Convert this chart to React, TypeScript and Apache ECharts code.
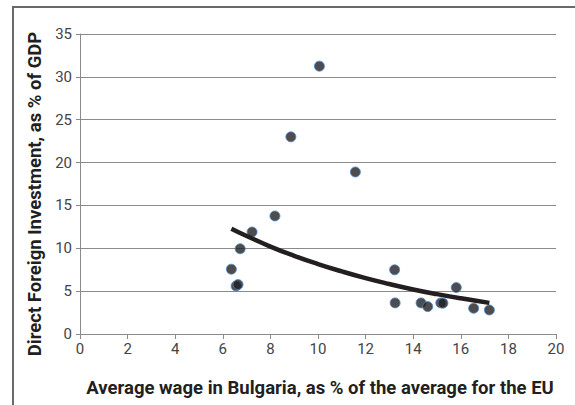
import React, { useEffect, useRef } from "react";
import * as echarts from "echarts";

// Average wage in Bulgaria, % of EU average (x) vs FDI, % of GDP (y)
const wageX = [6.36, 6.56, 6.64, 6.73, 7.23, 8.19, 8.86, 10.06, 11.57, 13.22, 13.24, 14.33, 14.61, 15.16, 15.25, 15.81, 16.54, 17.2];
const fdiY = [7.56, 5.6, 5.77, 9.95, 11.9, 13.77, 23.0, 31.25, 18.9, 7.49, 3.63, 3.63, 3.2, 3.63, 3.6, 5.42, 3.0, 2.8];

// Trend line (exponential)
const trendX = [6.36, 7, 8, 9, 10, 11, 12, 13, 14, 15, 16, 17.2];
const trendY = [12.29, 11.44, 10.2, 9.12, 8.16, 7.3, 6.52, 5.83, 5.2, 4.65, 4.16, 3.63];

const xTicks = [0, 2, 4, 6, 8, 10, 12, 14, 16, 18, 20];
const yTicks = [0, 5, 10, 15, 20, 25, 30, 35];

const xTitle = "Average wage in Bulgaria, as % of the average for the EU";
const yTitle = "Direct Foreign Investment, as % of GDP";

export default function App() {
  const ref = useRef<HTMLDivElement>(null);
  useEffect(() => {
    if (!ref.current) return;
    const chart = echarts.init(ref.current, null, { renderer: "svg" });
    const font = "Roboto, 'Noto Sans', sans-serif";
    chart.setOption({
      animation: false,
      backgroundColor: "#ffffff",
      grid: { left: 80, right: 19, top: 34, bottom: 71, containLabel: false },
      xAxis: {
        type: "value",
        min: xTicks[0],
        max: xTicks[xTicks.length - 1],
        interval: 2,
        axisLine: { show: true, lineStyle: { color: "#8a8a8a", width: 1 } },
        axisTick: { show: true, length: 5, lineStyle: { color: "#8a8a8a" } },
        splitLine: { show: false },
        axisLabel: { color: "#444", fontSize: 15, fontFamily: font, margin: 7 },
      },
      yAxis: {
        type: "value",
        min: yTicks[0],
        max: yTicks[yTicks.length - 1],
        interval: 5,
        axisLine: { show: true, lineStyle: { color: "#8a8a8a", width: 1 } },
        axisTick: { show: true, length: 4, lineStyle: { color: "#8a8a8a" } },
        splitLine: { show: true, lineStyle: { color: "#8a8a8a", width: 1 } },
        axisLabel: { color: "#444", fontSize: 15, fontFamily: font, margin: 8 },
      },
      graphic: [
        {
          type: "rect",
          shape: { x: 13, y: 7, width: 800, height: 800 },
          style: { fill: "none", stroke: "#6a6a6a", lineWidth: 2 },
          silent: true,
        },
        {
          type: "text",
          x: 35,
          y: 194,
          rotation: Math.PI / 2,
          style: {
            text: yTitle,
            fill: "#231f20",
            font: `bold 18.5px ${font}`,
            textAlign: "center",
            textVerticalAlign: "middle",
          },
        },
        {
          type: "text",
          x: 320,
          y: 388,
          style: {
            text: xTitle,
            fill: "#231f20",
            font: `bold 18.5px ${font}`,
            textAlign: "center",
            textVerticalAlign: "middle",
          },
        },
      ],
      series: [
        {
          type: "scatter",
          data: wageX.map((x, i) => [x, fdiY[i]]),
          symbol: "circle",
          symbolSize: 10,
          itemStyle: { color: "#231f20", borderColor: "#4a86c8", borderWidth: 1 },
          z: 3,
        },
        {
          type: "line",
          data: trendX.map((x, i) => [x, trendY[i]]),
          smooth: true,
          showSymbol: false,
          symbol: "none",
          lineStyle: { color: "#231f20", width: 4.5 },
          z: 4,
        },
      ],
    });
    return () => chart.dispose();
  }, []);
  return (
    <div
      ref={ref}
      style={{ position: "fixed", left: 0, top: 0, width: 575, height: 405, background: "#fff" }}
    />
  );
}
